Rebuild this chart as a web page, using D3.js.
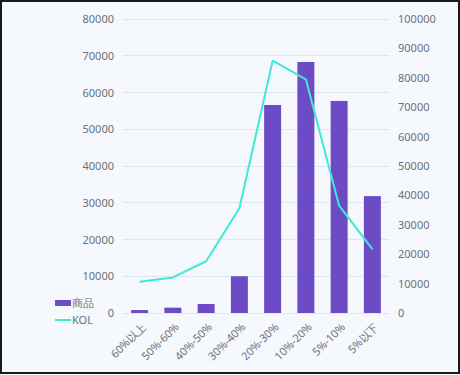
<!DOCTYPE html>
<html><head><meta charset="utf-8">
<script src="https://cdn.jsdelivr.net/npm/d3@7"></script>
<style>body{margin:0;background:#fff}svg{display:block}</style>
</head><body><svg id="c" width="460" height="375"></svg>
<script>
const categories = ["60%以上","50%-60%","40%-50%","30%-40%","20%-30%","10%-20%","5%-10%","5%以下"];
const goodsValues = [800, 1450, 2450, 10000, 56600, 68300, 57700, 31800];
const kolValues = [10600, 12100, 17600, 35600, 85800, 79500, 36500, 21700];
const leftTicks = [0,10000,20000,30000,40000,50000,60000,70000,80000];
const rightTicks = [0,10000,20000,30000,40000,50000,60000,70000,80000,90000,100000];
const seriesNames = ["商品","KOL"];

const W=460,H=375, L=123, R=389, T=19, B=313;
const font = "'Noto Sans','Microsoft YaHei',sans-serif";
const svg = d3.select("#c");
svg.append("rect").attr("width",W).attr("height",H).attr("fill","#f5f8fd");
svg.append("rect").attr("x",1).attr("y",1).attr("width",W-2).attr("height",H-3).attr("fill","none").attr("stroke","#1a1a1a").attr("stroke-width",2);

const x = d3.scaleBand().domain(categories).range([L,R]);
const yL = d3.scaleLinear().domain([0,80000]).range([B,T]);
const yR = d3.scaleLinear().domain([0,100000]).range([B,T]);

// grid
svg.append("g").selectAll("line").data(leftTicks).join("line")
  .attr("x1",L).attr("x2",R).attr("y1",d=>yL(d)).attr("y2",d=>yL(d))
  .attr("stroke","#e0e6f1").attr("stroke-width",1).attr("shape-rendering","crispEdges");

// left axis
const gl = svg.append("g").attr("transform",`translate(${L},0)`)
  .call(d3.axisLeft(yL).tickValues(leftTicks).tickSize(0).tickPadding(9).tickFormat(d3.format("d")));
gl.select(".domain").remove();
gl.selectAll("text").attr("fill","#6e7079").style("font-family",font).style("font-size","11px");

// right axis
const gr = svg.append("g").attr("transform",`translate(${R},0)`)
  .call(d3.axisRight(yR).tickValues(rightTicks).tickSize(0).tickPadding(9).tickFormat(d3.format("d")));
gr.select(".domain").remove();
gr.selectAll("text").attr("fill","#6e7079").style("font-family",font).style("font-size","11px");

// bars
const bw = 17;
svg.append("g").selectAll("rect").data(goodsValues).join("rect")
  .attr("x",(d,i)=>x(categories[i])+x.bandwidth()/2-bw/2)
  .attr("width",bw)
  .attr("y",d=>yL(d)).attr("height",d=>B-yL(d))
  .attr("fill","#6c4bc5");

// line
const line = d3.line().x((d,i)=>x(categories[i])+x.bandwidth()/2).y(d=>yR(d));
svg.append("path").datum(kolValues).attr("d",line)
  .attr("fill","none").attr("stroke","#40e8d6").attr("stroke-width",2).attr("stroke-linejoin","round");

// x labels
svg.append("g").selectAll("text").data(categories).join("text")
  .attr("transform",d=>`translate(${x(d)+x.bandwidth()/2+4},${B+12}) rotate(-45)`)
  .attr("text-anchor","end").attr("dy","0.35em")
  .attr("fill","#6e7079").style("font-family",font).style("font-size","11px")
  .text(d=>d);

// legend
const lg = svg.append("g");
lg.append("rect").attr("x",55).attr("y",300).attr("width",16).attr("height",6).attr("fill","#6c4bc5");
lg.append("text").attr("x",72).attr("y",303).attr("dy","0.35em").attr("fill","#6e7079")
  .style("font-family",font).style("font-size","11px").text(seriesNames[0]);
lg.append("line").attr("x1",55).attr("x2",71).attr("y1",320).attr("y2",320).attr("stroke","#40e8d6").attr("stroke-width",2);
lg.append("text").attr("x",72).attr("y",320).attr("dy","0.35em").attr("fill","#6e7079")
  .style("font-family",font).style("font-size","11px").text(seriesNames[1]);
</script></body></html>
